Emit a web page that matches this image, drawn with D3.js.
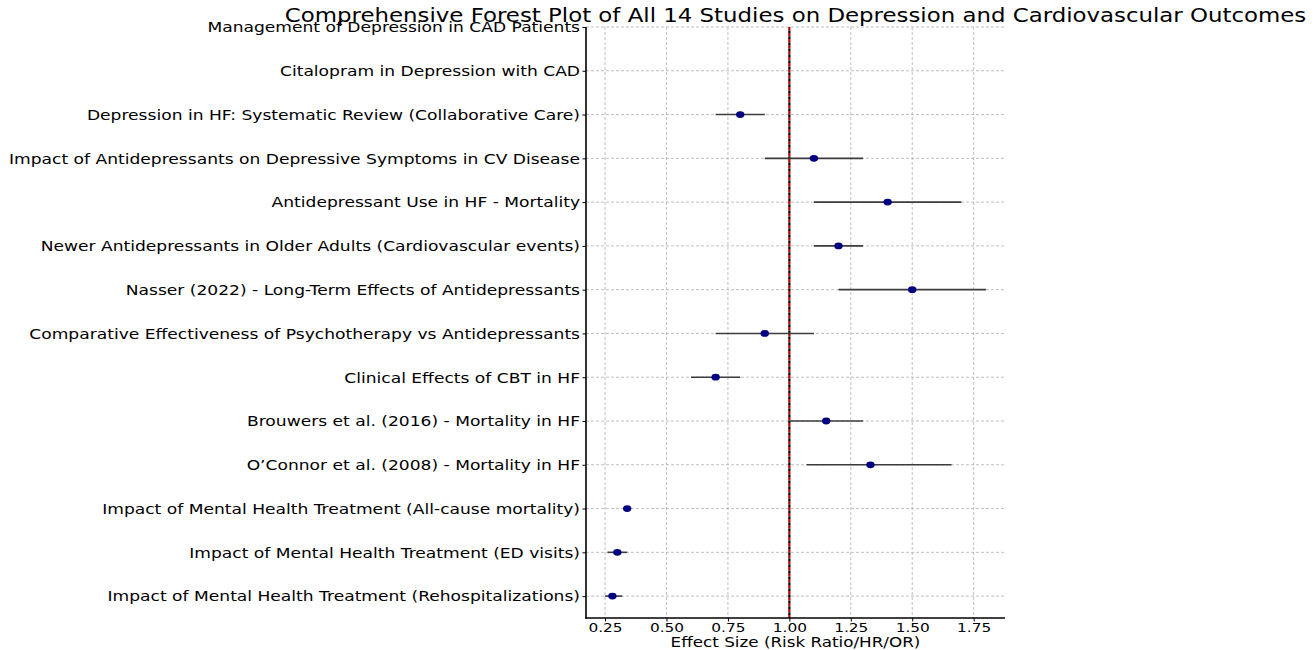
<!DOCTYPE html>
<html><head><meta charset="utf-8">
<script src="https://cdn.jsdelivr.net/npm/d3@7"></script>
<style>
body{margin:0;background:#fff;}
text{font-family:"DejaVu Sans",sans-serif;fill:#000;}
</style></head>
<body><svg id="c" width="1315" height="650"></svg>
<script>
const studies = [
  "Management of Depression in CAD Patients",
  "Citalopram in Depression with CAD",
  "Depression in HF: Systematic Review (Collaborative Care)",
  "Impact of Antidepressants on Depressive Symptoms in CV Disease",
  "Antidepressant Use in HF - Mortality",
  "Newer Antidepressants in Older Adults (Cardiovascular events)",
  "Nasser (2022) - Long-Term Effects of Antidepressants",
  "Comparative Effectiveness of Psychotherapy vs Antidepressants",
  "Clinical Effects of CBT in HF",
  "Brouwers et al. (2016) - Mortality in HF",
  "O\u2019Connor et al. (2008) - Mortality in HF",
  "Impact of Mental Health Treatment (All-cause mortality)",
  "Impact of Mental Health Treatment (ED visits)",
  "Impact of Mental Health Treatment (Rehospitalizations)"
];
const effect = [null, null, 0.80, 1.10, 1.40, 1.20, 1.50, 0.90, 0.70, 1.15, 1.33, 0.34, 0.30, 0.28];
const lower  = [null, null, 0.70, 0.90, 1.10, 1.10, 1.20, 0.70, 0.60, 1.00, 1.07, 0.33, 0.26, 0.25];
const upper  = [null, null, 0.90, 1.30, 1.70, 1.30, 1.80, 1.10, 0.80, 1.30, 1.66, 0.35, 0.34, 0.32];
const xTicks = [0.25, 0.50, 0.75, 1.00, 1.25, 1.50, 1.75];
const titleText = "Comprehensive Forest Plot of All 14 Studies on Depression and Cardiovascular Outcomes";
const xLabel = "Effect Size (Risk Ratio/HR/OR)";
const refValue = 1.0;

const SX = 1.23; // horizontal stretch of the reference image
const svg = d3.select("#c");
const L = 586, R = 1005, T = 27, B = 618;

const lo = d3.min(lower.filter(v => v != null)), hi = d3.max(upper.filter(v => v != null));
const pad = (hi - lo) * 0.05;
const x = d3.scaleLinear().domain([lo - pad, hi + pad]).range([L, R]);
const n = studies.length;
const y = d3.scaleLinear().domain([-0.5, n - 1]).range([B, T]);
const rowVal = i => n - 1 - i;

// grid
const grid = svg.append("g");
grid.selectAll(".gx").data(xTicks).join("line")
  .attr("x1", d => x(d)).attr("x2", d => x(d)).attr("y1", T).attr("y2", B)
  .attr("stroke", "#b0b0b0").attr("stroke-width", 0.8).attr("stroke-dasharray", "3,2");
grid.selectAll(".gy").data(studies).join("line")
  .attr("x1", L).attr("x2", R).attr("y1", (d, i) => y(rowVal(i))).attr("y2", (d, i) => y(rowVal(i)))
  .attr("stroke", "#b0b0b0").attr("stroke-width", 0.8).attr("stroke-dasharray", "3,2");

// reference line
svg.append("line").attr("x1", x(refValue)).attr("x2", x(refValue)).attr("y1", T).attr("y2", B)
  .attr("stroke", "#000").attr("stroke-width", 2.2).attr("stroke-dasharray", "2.5,3.5").attr("stroke-dashoffset", -3.5);
svg.append("line").attr("x1", x(refValue)).attr("x2", x(refValue)).attr("y1", T).attr("y2", B)
  .attr("stroke", "#b00000").attr("stroke-width", 2.2).attr("stroke-dasharray", "3.5,2.5");

// error bars & points
const rows = studies.map((s, i) => ({s, i, e: effect[i], l: lower[i], u: upper[i]})).filter(d => d.e != null);
svg.append("g").selectAll("line").data(rows).join("line")
  .attr("x1", d => x(d.l)).attr("x2", d => x(d.u))
  .attr("y1", d => y(rowVal(d.i))).attr("y2", d => y(rowVal(d.i)))
  .attr("stroke", "#3c3c3c").attr("stroke-width", 1.6);
svg.append("g").selectAll("ellipse").data(rows).join("ellipse")
  .attr("cx", d => x(d.e)).attr("cy", d => y(rowVal(d.i)))
  .attr("rx", 4.2).attr("ry", 3.4).attr("fill", "#000080");

// axes
const xa = svg.append("g").attr("transform", `translate(0,${B})`)
  .call(d3.axisBottom(x).tickValues(xTicks).tickFormat(d3.format(".2f")).tickSize(3.5).tickSizeOuter(0));
xa.select(".domain").remove();
xa.selectAll(".tick line").attr("stroke", "#000").attr("stroke-width", 1);
xa.selectAll(".tick text").attr("y", 5).attr("dy", "0.71em")
  .attr("transform", `scale(1.28,1)`).style("font-size", "12px").style("font-family", "DejaVu Sans");

const ya = svg.append("g").attr("transform", `translate(${L},0)`)
  .call(d3.axisLeft(y).tickValues(studies.map((s, i) => rowVal(i)))
    .tickFormat(v => studies[n - 1 - v]).tickSize(3.5).tickSizeOuter(0));
ya.select(".domain").remove();
ya.selectAll(".tick line").attr("stroke", "#000").attr("stroke-width", 1);
ya.selectAll(".tick text").attr("x", -6 / SX).attr("dy", "0.35em")
  .attr("transform", `scale(${SX},1)`).style("font-size", "13.9px").style("font-family", "DejaVu Sans");

// spines
svg.append("line").attr("x1", L).attr("x2", L).attr("y1", T).attr("y2", B + 0.8).attr("stroke", "#000").attr("stroke-width", 1.6);
svg.append("line").attr("x1", L - 0.8).attr("x2", R).attr("y1", B).attr("y2", B).attr("stroke", "#000").attr("stroke-width", 1.6);

// title and x label
svg.append("text").attr("text-anchor", "middle")
  .attr("transform", `translate(${(L + R) / 2},22) scale(${SX},1)`)
  .style("font-size", "18.6px").text(titleText);
svg.append("text").attr("text-anchor", "middle")
  .attr("transform", `translate(${(L + R) / 2},647) scale(1.27,1)`)
  .style("font-size", "13.2px").text(xLabel);
</script></body></html>
